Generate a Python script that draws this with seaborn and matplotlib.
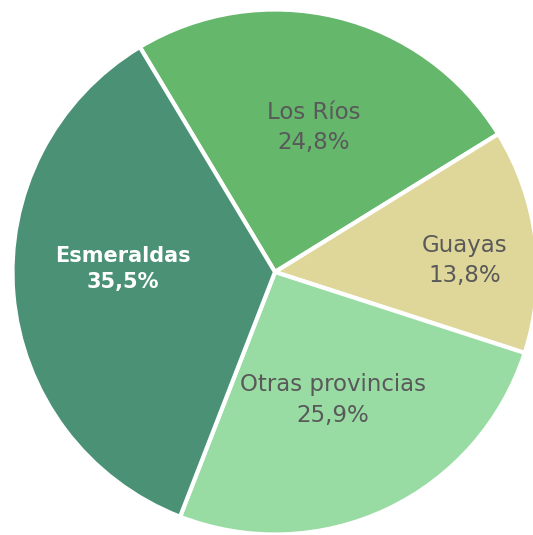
import numpy as np
import matplotlib
matplotlib.use("Agg")
import matplotlib.pyplot as plt
import seaborn as sns

# data (clockwise from the top-left boundary)
provincias = ["Los Ríos", "Guayas", "Otras provincias", "Esmeraldas"]
porcentajes = [24.8, 13.8, 25.9, 35.5]
colores = ["#65b76c", "#dfd69a", "#98dca4", "#4a9175"]

# label placement (radius fraction, angular nudge in degrees)
label_r = [0.57, 0.725, 0.535, 0.58]
label_nudge = [-1.2, -3.3, -1.2, -6.0]

sns.set_style("white")
plt.rcParams["font.family"] = ["DejaVu Sans"]

fig = plt.figure(figsize=(5.33, 5.35), dpi=100)
ax = fig.add_axes([0, 0, 1, 1])

wedges, texts = ax.pie(
    porcentajes, colors=colores, startangle=121, counterclock=False,
    radius=1.0, wedgeprops=dict(edgecolor="white", linewidth=3),
)

for i, w in enumerate(wedges):
    ang = np.deg2rad((w.theta1 + w.theta2) / 2 + label_nudge[i])
    pct = f"{porcentajes[i]:.1f}".replace(".", ",")
    bold = provincias[i] == "Esmeraldas"
    ax.text(label_r[i] * np.cos(ang), label_r[i] * np.sin(ang),
            f"{provincias[i]}\n{pct}%", ha="center", va="center",
            fontsize=15 if bold else 16.5, linespacing=1.4,
            color="white" if bold else "#595959",
            fontweight="bold" if bold else "normal")

# pie centered at (275, 272) px, radius ~262 px
r_px = 262.5
ax.set_xlim(-275 / r_px, (533 - 275) / r_px)
ax.set_ylim(-(535 - 272) / r_px, 272 / r_px)
ax.set_aspect("auto")
ax.axis("off")

fig.savefig("out.png", dpi=100)
